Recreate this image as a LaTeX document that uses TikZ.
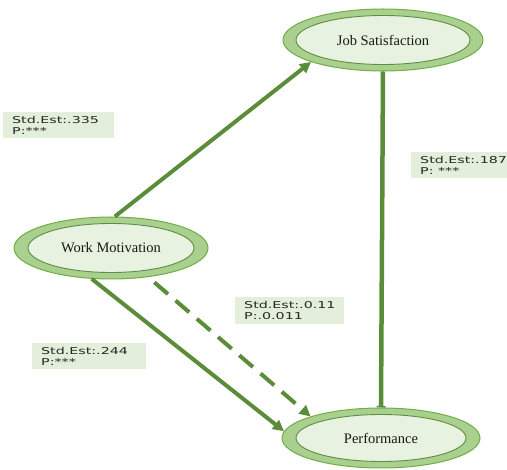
\documentclass[tikz,border=0pt]{standalone}
\usepackage{fontspec}
\setmainfont{Liberation Serif}
\newfontfamily\labfont[FakeStretch=1.5]{DejaVu Sans}
\usetikzlibrary{arrows.meta,shapes.geometric}
\definecolor{labfill}{HTML}{E3EFDA}
\definecolor{ringfill}{HTML}{A9D08E}
\definecolor{ringline}{HTML}{70AD47}
\definecolor{innerfill}{HTML}{E8F2E0}
\definecolor{innerline}{HTML}{5E8E3E}
\definecolor{conncol}{HTML}{5B8C3A}
\tikzset{
  outerell/.style={ellipse, draw=ringline, line width=1pt, fill=ringfill, inner sep=0pt},
  innerell/.style={ellipse, draw=innerline, line width=0.9pt, fill=innerfill, inner sep=0pt, font=\fontsize{14.5}{16}\selectfont, text=black!90},
  conn/.style={draw=conncol, line width=4pt, -{Triangle[length=11pt,width=11pt]}},
  lab/.style={fill=labfill, anchor=north west, align=left, inner xsep=9pt, inner ysep=4pt,
    font=\labfont\fontsize{9.5}{11}\selectfont, text=black!85}
}
\begin{document}
\begin{tikzpicture}[x=1pt,y=-1pt]
\useasboundingbox (0,0) rectangle (507,470);
\clip (0,0) rectangle (507,470);
% ellipses
\node[outerell, minimum width=200pt, minimum height=62pt] (js) at (383,40) {};
\node[innerell, minimum width=174pt, minimum height=49pt] (jsin) at (js.center) {Job Satisfaction};
\node[outerell, minimum width=194pt, minimum height=62pt] (wm) at (111,248) {};
\node[innerell, minimum width=166pt, minimum height=49pt] (wmin) at (wm.center) {Work Motivation};
\node[outerell, minimum width=198pt, minimum height=60pt] (pf) at (381,438) {};
\node[innerell, minimum width=170pt, minimum height=47pt] (pfin) at (pf.center) {Performance};
% connectors
\draw[conn] (wm.83) -- (js.197);
\draw[conn] (wm.238) -- (pf.176);
\draw[conn, dash pattern=on 18pt off 10pt, shorten <=8pt] (wm.-38) -- (pf.163);
\draw[draw=conncol, line width=4.5pt, -{Bar[width=9pt,line width=1.5pt]}] (js.south) -- (pf.north);
% labels
\node[lab, text width=93pt] (l1) at (3,112) {Std.Est:.335\\P:***};
\node[lab] (l2) at (411,152) {Std.Est:.187\\P: ***};
\node[lab] (l3) at (235,297) {Std.Est:.0.11\\P:.0.011};
\node[lab, text width=96pt] (l4) at (32,343) {Std.Est:.244\\P:***};
\end{tikzpicture}
\end{document}
